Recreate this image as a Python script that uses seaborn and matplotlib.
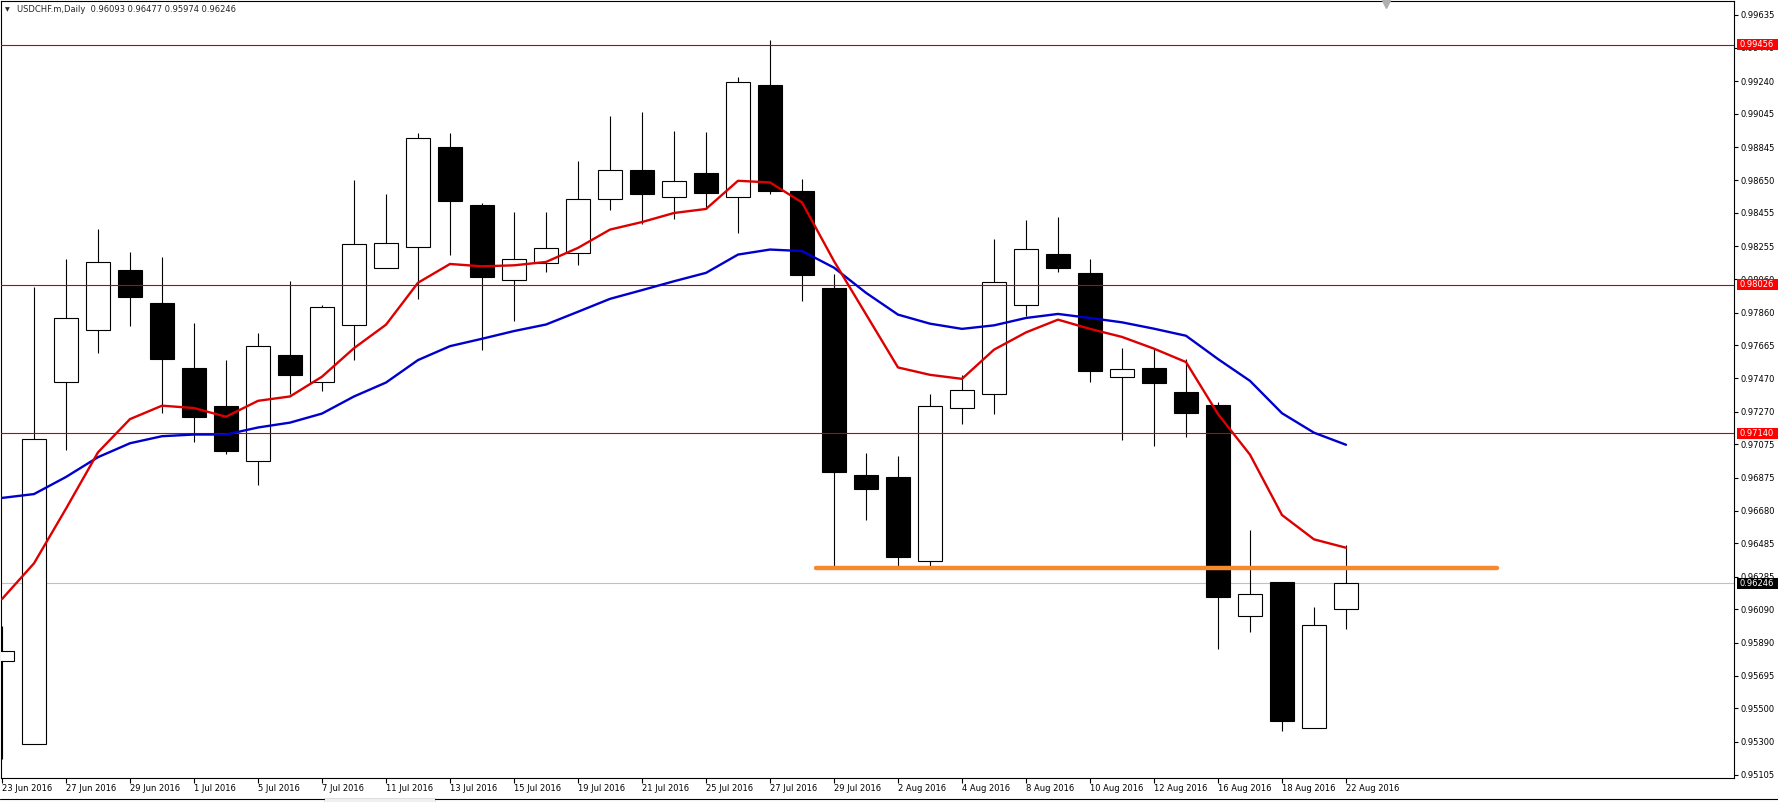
import pandas as pd
import matplotlib
matplotlib.use("Agg")
import matplotlib.pyplot as plt
import seaborn as sns
from matplotlib.lines import Line2D
from matplotlib.patches import Rectangle
from matplotlib.transforms import blended_transform_factory

# --- data (USDCHF daily) ---
dates = ["23 Jun 2016", "24 Jun 2016", "27 Jun 2016", "28 Jun 2016", "29 Jun 2016",
         "30 Jun 2016", "1 Jul 2016", "4 Jul 2016", "5 Jul 2016", "6 Jul 2016",
         "7 Jul 2016", "8 Jul 2016", "11 Jul 2016", "12 Jul 2016", "13 Jul 2016",
         "14 Jul 2016", "15 Jul 2016", "18 Jul 2016", "19 Jul 2016", "20 Jul 2016",
         "21 Jul 2016", "22 Jul 2016", "25 Jul 2016", "26 Jul 2016", "27 Jul 2016",
         "28 Jul 2016", "29 Jul 2016", "1 Aug 2016", "2 Aug 2016", "3 Aug 2016",
         "4 Aug 2016", "5 Aug 2016", "8 Aug 2016", "9 Aug 2016", "10 Aug 2016",
         "11 Aug 2016", "12 Aug 2016", "15 Aug 2016", "16 Aug 2016", "17 Aug 2016",
         "18 Aug 2016", "19 Aug 2016", "22 Aug 2016"]

open_ = [0.95781, 0.95289, 0.97447, 0.97759, 0.98114, 0.97918, 0.97530, 0.97301, 0.96977, 0.97606,
         0.97447, 0.97788, 0.98123, 0.98251, 0.98849, 0.98504, 0.98055, 0.98156, 0.98216, 0.98537,
         0.98710, 0.98549, 0.98692, 0.98549, 0.99216, 0.98585, 0.98004, 0.96890, 0.96878, 0.96380,
         0.97290, 0.97373, 0.97906, 0.98212, 0.98094, 0.97475, 0.97529, 0.97387, 0.97309, 0.96049,
         0.96254, 0.95383, 0.96093]
high = [0.95993, 0.98015, 0.98180, 0.98360, 0.98223, 0.98192, 0.97797, 0.97577, 0.97736, 0.98050,
        0.97908, 0.98652, 0.98569, 0.98930, 0.98930, 0.98514, 0.98460, 0.98460, 0.98766, 0.99033,
        0.99055, 0.98944, 0.98936, 0.99264, 0.99486, 0.98657, 0.98088, 0.97022, 0.97004, 0.97373,
        0.97485, 0.98297, 0.98411, 0.98429, 0.98177, 0.97649, 0.97643, 0.97583, 0.97326, 0.96562,
        0.96254, 0.96105, 0.96477]
low = [0.95197, 0.95285, 0.97038, 0.97618, 0.97778, 0.97263, 0.97088, 0.97015, 0.96833, 0.97376,
       0.97393, 0.97577, 0.98123, 0.97944, 0.98202, 0.97636, 0.97809, 0.98101, 0.98143, 0.98474,
       0.98387, 0.98420, 0.98478, 0.98333, 0.98567, 0.97928, 0.96346, 0.96623, 0.96346, 0.96346,
       0.97196, 0.97257, 0.97842, 0.98101, 0.97449, 0.97102, 0.97066, 0.97120, 0.95853, 0.95958,
       0.95365, 0.95383, 0.95974]
close = [0.95840, 0.97109, 0.97826, 0.98161, 0.97956, 0.97584, 0.97239, 0.97036, 0.97660, 0.97485,
         0.97892, 0.98270, 0.98275, 0.98901, 0.98523, 0.98071, 0.98180, 0.98246, 0.98537, 0.98710,
         0.98567, 0.98645, 0.98571, 0.99234, 0.98583, 0.98083, 0.96910, 0.96808, 0.96401, 0.97302,
         0.97399, 0.98044, 0.98242, 0.98125, 0.97509, 0.97525, 0.97443, 0.97263, 0.96166, 0.96180,
         0.95425, 0.95997, 0.96246]

# moving averages as drawn on the chart
ma_fast = [0.96152, 0.96365, 0.96691, 0.97027, 0.97225, 0.97305, 0.97291, 0.97239, 0.97334, 0.97360,
           0.97478, 0.97648, 0.97788, 0.98038, 0.98150, 0.98136, 0.98142, 0.98162, 0.98246, 0.98355,
           0.98400, 0.98454, 0.98478, 0.98646, 0.98636, 0.98517, 0.98167, 0.97850, 0.97533, 0.97489,
           0.97465, 0.97639, 0.97742, 0.97818, 0.97763, 0.97715, 0.97645, 0.97565, 0.97255, 0.97013,
           0.96653, 0.96508, 0.96458]
ma_slow = [0.96755, 0.96778, 0.96880, 0.96998, 0.97081, 0.97123, 0.97133, 0.97133, 0.97175, 0.97204,
           0.97258, 0.97360, 0.97443, 0.97577, 0.97660, 0.97704, 0.97750, 0.97789, 0.97865, 0.97942,
           0.97994, 0.98047, 0.98097, 0.98206, 0.98236, 0.98227, 0.98128, 0.97978, 0.97848, 0.97794,
           0.97763, 0.97784, 0.97828, 0.97852, 0.97828, 0.97802, 0.97764, 0.97722, 0.97583, 0.97453,
           0.97260, 0.97144, 0.97072]

levels = [0.99456, 0.98026, 0.97140]
bid = 0.96246
support_level = 0.96335
support_from = 25.45   # in bars
support_to = 46.73

price_ticks = [0.99635, 0.99440, 0.99240, 0.99045, 0.98845, 0.98650, 0.98455, 0.98255, 0.98060,
               0.97860, 0.97665, 0.97470, 0.97270, 0.97075, 0.96875, 0.96680, 0.96485, 0.96285,
               0.96090, 0.95890, 0.95695, 0.95500, 0.95300, 0.95105]

symbol = "USDCHF.m,Daily"

# --- figure ---
W, H = 1778, 802
sns.set_style("white")
plt.rcParams['font.family'] = ['DejaVu Sans']
FS = 6.0

df = pd.DataFrame({"bar": range(len(dates)), "date": dates, "open": open_, "high": high,
                   "low": low, "close": close, "ma_fast": ma_fast, "ma_slow": ma_slow})
df["up"] = df["close"] >= df["open"]

fig = plt.figure(figsize=(W / 100, H / 100), dpi=100)
ax = fig.add_axes([1 / W, (H - 778) / H, 1733 / W, 777.5 / H])

# bid line under the candles
ax.axhline(bid, color="#c0c0c0", lw=0.8, zorder=1)

# wicks + bodies
ax.vlines(df["bar"], df["low"], df["high"], color="black", lw=0.8, zorder=2)
body_bottom = df[["open", "close"]].min(axis=1)
body_height = (df["close"] - df["open"]).abs()
ax.bar(df["bar"], body_height, bottom=body_bottom, width=0.74,
       color=["white" if u else "black" for u in df["up"]],
       edgecolor="black", linewidth=0.8, zorder=3)

# horizontal levels
for lv in levels:
    ax.axhline(lv, color="#c80000", lw=0.8, zorder=4)

# moving averages
sns.lineplot(data=df, x="bar", y="ma_slow", color="#0000cc", lw=1.7, ax=ax, zorder=5)
sns.lineplot(data=df, x="bar", y="ma_fast", color="#dd0000", lw=1.7, ax=ax, zorder=5)

# orange support trendline
ax.plot([support_from, support_to], [support_level, support_level], color="#f68830",
        lw=3.2, solid_capstyle="round", zorder=6)

ax.set_xlim(-1 / 32, 1732 / 32)
ax.set_ylim(0.95085, 0.99721)
ax.set_xlabel("")
ax.set_ylabel("")

# axes frame
for sp in ax.spines.values():
    sp.set_visible(True)
    sp.set_color("black")
    sp.set_linewidth(0.8)

# y axis on the right
ax.yaxis.tick_right()
ax.set_yticks(price_ticks)
ax.set_yticklabels([f"{t:.5f}" for t in price_ticks])
ax.tick_params(axis="y", right=True, left=False, direction="out", length=3, width=0.8,
               pad=1.5, labelsize=FS, colors="black")

# x axis: every second bar, label to the right of the tick
ax.set_xticks(df["bar"][::2])
ax.set_xticklabels(df["date"][::2], ha="left")
ax.tick_params(axis="x", bottom=True, direction="out", length=3.5, width=0.8,
               pad=0.5, labelsize=FS, colors="black")

# price labels on the right scale
tr = blended_transform_factory(fig.transFigure, ax.transData)
box_h = 11 / 16769
for lv, fc in [(levels[0], "#ff0000"), (levels[1], "#ff0000"), (levels[2], "#ff0000"), (bid, "black")]:
    ax.add_patch(Rectangle((1737 / W, lv - box_h / 2), 41 / W, box_h, transform=tr,
                           facecolor=fc, edgecolor="none", clip_on=False, zorder=10))
    ax.text(1740 / W, lv, f"{lv:.5f}", transform=tr, color="white", fontsize=FS,
            ha="left", va="center", clip_on=False, zorder=11)

# header
last = df.iloc[-1]
fig.text(5 / W, 1 - 10 / H, "▼", fontsize=4.5, ha="left", va="center")
fig.text(17 / W, 1 - 10 / H,
         f"{symbol}  {last['open']:.5f} {last['high']:.5f} {last['low']:.5f} {last['close']:.5f}",
         fontsize=FS, ha="left", va="center")

# chart shift marker at the top
fig.add_artist(Line2D([1386 / W], [1 - 4 / H], marker="v", markersize=6,
                      color="#b0b0b0", transform=fig.transFigure))

# bottom tab strip
fig.add_artist(Rectangle((324 / W, 0), 111 / W, 4 / H, transform=fig.transFigure,
                         facecolor="#f0f0f0", edgecolor="#d8d8d8", lw=0.6))
fig.add_artist(Line2D([0, 324 / W], [3 / H, 3 / H], color="black", lw=0.8,
                      transform=fig.transFigure))
fig.add_artist(Line2D([435 / W, 1], [3 / H, 3 / H], color="black", lw=0.8,
                      transform=fig.transFigure))

fig.savefig("out.png", dpi=100, facecolor="white")
